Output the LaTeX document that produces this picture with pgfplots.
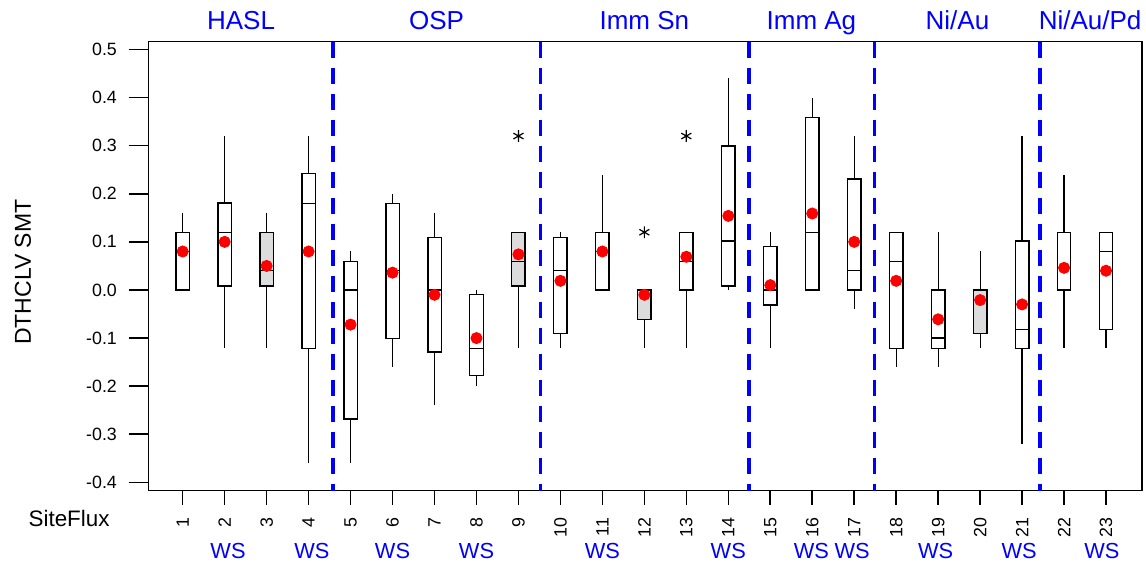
\documentclass[border=0pt]{standalone}
\usepackage{fontspec}
\setmainfont{Liberation Sans}
\usepackage{pgfplots}
\pgfplotsset{compat=1.18}
\definecolor{grp}{HTML}{0000FF}
\definecolor{meanred}{HTML}{FF0000}
\definecolor{boxgray}{HTML}{DCDCDC}

% pos, lower whisker, Q1, median, Q3, upper whisker, fill
\newcommand{\bx}[7]{%
  \pgfmathsetmacro\bl{#1-0.16}\pgfmathsetmacro\br{#1+0.16}%
  \edef\doit{%
    \noexpand\addplot[black, line width=.6bp, forget plot]
      coordinates {(#1,#2) (#1,#3)};
    \noexpand\addplot[black, line width=.6bp, forget plot]
      coordinates {(#1,#5) (#1,#6)};
    \noexpand\addplot[draw=black, fill=#7, line width=.7bp, forget plot]
      coordinates {(\bl,#3) (\br,#3) (\br,#5) (\bl,#5)} -- cycle;
    \noexpand\addplot[black, line width=.7bp, forget plot]
      coordinates {(\bl,#4) (\br,#4)};
  }\doit}
\newcommand{\divider}[2]{%
  \addplot[grp, line width=#2, dash pattern=on 8bp off 5bp, forget plot]
    coordinates {(#1,0.5161) (#1,-0.4172)};}
\newcommand{\grplabel}[2]{%
  \node[anchor=base, inner sep=0, text=grp, font=\fontsize{13bp}{15bp}\selectfont]
    at (axis cs:#1,0.5419) {#2};}
\newcommand{\ws}[1]{%
  \node[anchor=base, inner sep=0, text=grp, font=\fontsize{10.9bp}{13bp}\selectfont]
    at (axis cs:#1,-0.5577) {WS};}

\begin{document}
\begin{tikzpicture}
\begin{axis}[name=ax,
  scale only axis, width=496.65bp, height=224.5bp,
  xmin=0.19, xmax=23.857, ymin=-0.4172, ymax=0.5161,
  clip=false,
  axis line style={line width=.8bp},
  tick style={black, line width=.8bp},
  tick align=outside, major tick length=10bp,
  xtick pos=left, ytick pos=left,
  xtick={1,...,23},
  xtick style={/pgfplots/major tick length=7bp},
  ytick={-0.4,-0.3,-0.2,-0.1,0,0.1,0.2,0.3,0.4,0.5},
  yticklabels={-0.4,-0.3,-0.2,-0.1,0.0,0.1,0.2,0.3,0.4,0.5},
  /pgf/number format/assume math mode=true,
  ticklabel style={font=\fontsize{8.9bp}{10bp}\selectfont},
  xticklabel style={rotate=90, anchor=east},
  yticklabel style={xshift=-2.4bp},
]
\divider{4.59}{2bp}
\divider{9.52}{1.3bp}
\divider{14.49}{2bp}
\divider{17.48}{1.3bp}
\divider{21.43}{2bp}

\bx{1}{0}{0}{0.08}{0.12}{0.16}{white}
\bx{2}{-0.12}{0.008}{0.12}{0.181}{0.32}{white}
\bx{3}{-0.12}{0.008}{0.04}{0.12}{0.16}{boxgray}
\bx{4}{-0.36}{-0.122}{0.18}{0.242}{0.32}{white}
\bx{5}{-0.36}{-0.268}{0}{0.059}{0.08}{white}
\bx{6}{-0.16}{-0.101}{0.04}{0.18}{0.2}{white}
\bx{7}{-0.24}{-0.129}{0}{0.109}{0.16}{white}
\bx{8}{-0.2}{-0.178}{-0.122}{-0.01}{0}{white}
\bx{9}{-0.12}{0.008}{0.059}{0.12}{0.12}{boxgray}
\bx{10}{-0.12}{-0.09}{0.04}{0.109}{0.12}{white}
\bx{11}{0}{0}{0.08}{0.12}{0.24}{white}
\bx{12}{-0.12}{-0.061}{0}{0}{0}{boxgray}
\bx{13}{-0.12}{0}{0.059}{0.12}{0.12}{white}
\bx{14}{0}{0.008}{0.102}{0.299}{0.44}{white}
\bx{15}{-0.12}{-0.031}{0}{0.09}{0.12}{white}
\bx{16}{0}{0}{0.12}{0.358}{0.4}{white}
\bx{17}{-0.04}{0}{0.04}{0.231}{0.32}{white}
\bx{18}{-0.16}{-0.122}{0.059}{0.12}{0.12}{white}
\bx{19}{-0.16}{-0.122}{-0.1}{0}{0.12}{white}
\bx{20}{-0.12}{-0.09}{0}{0}{0.08}{boxgray}
\bx{21}{-0.32}{-0.122}{-0.082}{0.102}{0.32}{white}
\bx{22}{-0.12}{0}{0}{0.12}{0.24}{white}
\bx{23}{-0.12}{-0.082}{0.08}{0.12}{0.12}{white}

% outliers
\addplot[only marks, mark=asterisk, mark size=2.9bp, black, line width=.6bp]
  coordinates {(9,0.32) (12,0.12) (13,0.32)};
% means
\addplot[only marks, mark=*, mark size=2.8bp, meanred, mark options={draw=none}]
  coordinates {(1,0.08) (2,0.1) (3,0.05) (4,0.08) (5,-0.072) (6,0.036)
    (7,-0.01) (8,-0.1) (9,0.074) (10,0.019) (11,0.08) (12,-0.01) (13,0.069)
    (14,0.154) (15,0.01) (16,0.159) (17,0.1) (18,0.019) (19,-0.061)
    (20,-0.021) (21,-0.03) (22,0.046) (23,0.04)};

\grplabel{2.39}{HASL}
\grplabel{7.05}{OSP}
\grplabel{12.0}{Imm Sn}
\grplabel{15.98}{Imm Ag}
\grplabel{19.46}{Ni/Au}
\grplabel{22.62}{Ni/Au/Pd}

\ws{2.08}\ws{4.08}\ws{6.0}\ws{8.0}\ws{11.0}\ws{14.0}
\ws{15.98}\ws{16.95}\ws{18.94}\ws{20.93}\ws{22.9}

\node[anchor=base west, inner sep=0, font=\fontsize{11.2bp}{13bp}\selectfont]
  at (axis cs:-2.68,-0.492) {SiteFlux};
\node[anchor=base, rotate=90, inner sep=0, font=\fontsize{11.5bp}{13bp}\selectfont]
  at (axis cs:-2.62,0.037) {DTHCLV SMT};
\end{axis}
\pgfresetboundingbox
\path[use as bounding box] ([shift={(-74.35bp,-36.15bp)}]ax.south west)
  rectangle ([shift={(2bp,20.85bp)}]ax.north east);
\end{tikzpicture}
\end{document}
